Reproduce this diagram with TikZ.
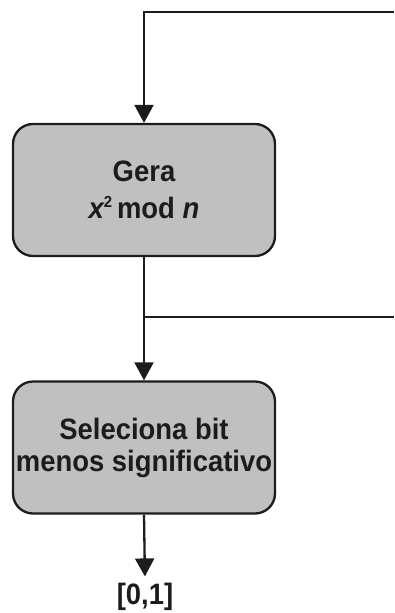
\documentclass[tikz,border=0pt]{standalone}
\usepackage{fontspec}
\setmainfont{Liberation Sans}[FakeStretch=0.93]
\usetikzlibrary{arrows.meta}
\definecolor{boxgray}{RGB}{192,192,192}
\definecolor{inkc}{RGB}{28,28,28}
\newcommand{\supsm}[1]{\raisebox{11pt}{\fontsize{16}{16}\selectfont #1}}
\tikzset{
  procbox/.style={draw=inkc, fill=boxgray, line width=2.3pt, rounded corners=20pt,
    minimum width=262pt, minimum height=132pt, align=center, text=inkc,
    font=\fontsize{29.5}{32}\selectfont\bfseries, inner sep=0pt},
  conn/.style={draw=inkc, line width=2.3pt},
  tip/.style={-{Triangle[length=18pt,width=19pt]}},
  arr/.style={conn, tip},
  lbl/.style={text=inkc, font=\fontsize{29.5}{32}\selectfont\bfseries, inner sep=0pt}
}
\begin{document}
\begin{tikzpicture}[x=1pt,y=-1pt]
\useasboundingbox (0,0) rectangle (394,613);
\node[procbox] (gera) at (144,190) {Gera\\[5pt]{\itshape x}\supsm{2}\,mod {\itshape n}};
\node[procbox] (sel) at (144,447.5) {Seleciona bit\\menos significativo};
\node[lbl, anchor=base] (out) at (145,604) {[0,1]};
\coordinate (tr) at (394,12);
\coordinate (tl) at (144,12);
\coordinate (bj) at (144,317);
\coordinate (br) at (394,317);
\draw[arr] (tr) -- (tl) -- (gera.north);
\draw[arr] (gera.south) -- (sel.north);
\draw[conn] (bj) -- (br);
\draw[arr, shorten >=6pt] (sel.south) -- (out.north);
\end{tikzpicture}
\end{document}
